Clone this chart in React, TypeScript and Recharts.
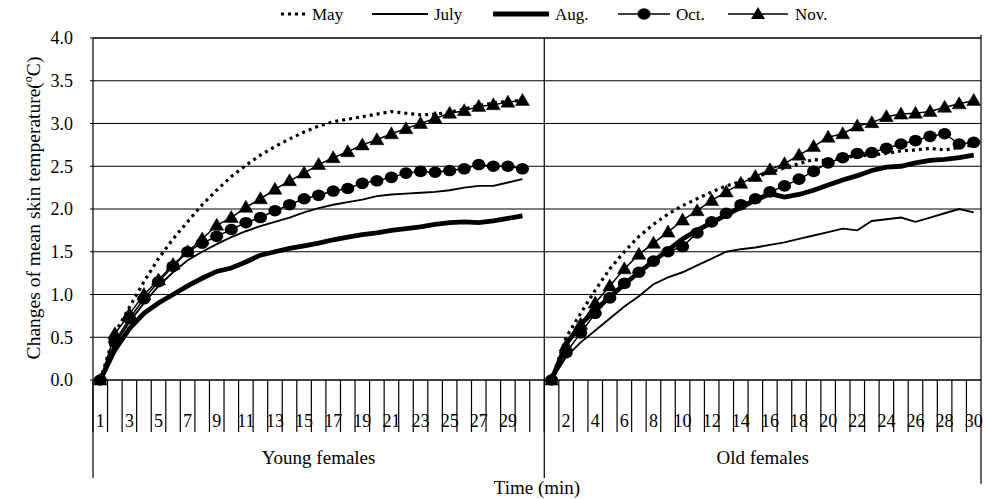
import React from 'react';
import { LineChart, Line, XAxis, YAxis, CartesianGrid, ReferenceLine } from 'recharts';

// ---------- categories (minutes) ----------
const youngMinutes = [1, 2, 3, 4, 5, 6, 7, 8, 9, 10, 11, 12, 13, 14, 15, 16, 17, 18, 19, 20, 21, 22, 23, 24, 25, 26, 27, 28, 29, 30];
const oldMinutes = [1, 2, 3, 4, 5, 6, 7, 8, 9, 10, 11, 12, 13, 14, 15, 16, 17, 18, 19, 20, 21, 22, 23, 24, 25, 26, 27, 28, 29, 30];
const groupNames = ['Young females', 'Old females'];

// ---------- series values: Young females ----------
const youngMay = [0, 0.55, 0.85, 1.15, 1.42, 1.65, 1.85, 2.05, 2.22, 2.38, 2.51, 2.63, 2.73, 2.82, 2.9, 2.97, 3.02, 3.05, 3.08, 3.11, 3.14, 3.12, 3.1, 3.11, 3.13, 3.17, 3.21, 3.24, 3.26, 3.27];
const youngJuly = [0, 0.42, 0.68, 0.9, 1.1, 1.26, 1.4, 1.5, 1.59, 1.67, 1.74, 1.8, 1.85, 1.9, 1.96, 2.01, 2.05, 2.08, 2.11, 2.15, 2.17, 2.18, 2.19, 2.2, 2.22, 2.25, 2.27, 2.27, 2.31, 2.35];
const youngAug = [0, 0.35, 0.6, 0.78, 0.9, 1.0, 1.1, 1.19, 1.27, 1.31, 1.38, 1.46, 1.5, 1.54, 1.57, 1.6, 1.64, 1.67, 1.7, 1.72, 1.75, 1.77, 1.79, 1.82, 1.84, 1.85, 1.84, 1.86, 1.89, 1.92];
const youngOct = [0, 0.45, 0.72, 0.95, 1.15, 1.33, 1.5, 1.6, 1.68, 1.76, 1.84, 1.9, 1.98, 2.05, 2.12, 2.16, 2.21, 2.24, 2.3, 2.33, 2.37, 2.42, 2.44, 2.43, 2.45, 2.47, 2.52, 2.5, 2.5, 2.47];
const youngNov = [0, 0.54, 0.77, 1.0, 1.17, 1.35, 1.5, 1.65, 1.81, 1.9, 2.02, 2.12, 2.23, 2.33, 2.42, 2.52, 2.6, 2.67, 2.75, 2.81, 2.88, 2.94, 3.0, 3.06, 3.12, 3.15, 3.2, 3.22, 3.25, 3.27];

// ---------- series values: Old females ----------
const oldMay = [0, 0.5, 0.78, 1.05, 1.3, 1.5, 1.68, 1.82, 1.94, 2.04, 2.12, 2.2, 2.27, 2.32, 2.37, 2.43, 2.48, 2.53, 2.58, 2.56, 2.6, 2.62, 2.63, 2.65, 2.68, 2.69, 2.71, 2.69, 2.72, 2.75];
const oldJuly = [0, 0.27, 0.44, 0.58, 0.72, 0.86, 0.98, 1.12, 1.2, 1.26, 1.34, 1.42, 1.5, 1.53, 1.55, 1.58, 1.61, 1.65, 1.69, 1.73, 1.77, 1.75, 1.86, 1.88, 1.9, 1.85, 1.9, 1.95, 2.0, 1.96];
const oldAug = [0, 0.42, 0.65, 0.82, 0.97, 1.12, 1.26, 1.39, 1.52, 1.65, 1.75, 1.84, 1.93, 2.02, 2.1, 2.18, 2.14, 2.17, 2.22, 2.28, 2.34, 2.39, 2.45, 2.49, 2.5, 2.54, 2.57, 2.58, 2.6, 2.63];
const oldOct = [0, 0.32, 0.55, 0.78, 0.96, 1.13, 1.26, 1.39, 1.5, 1.56, 1.72, 1.85, 1.95, 2.05, 2.12, 2.2, 2.27, 2.35, 2.44, 2.54, 2.6, 2.65, 2.66, 2.71, 2.76, 2.8, 2.85, 2.88, 2.76, 2.78];
const oldNov = [0, 0.4, 0.65, 0.9, 1.1, 1.3, 1.47, 1.6, 1.73, 1.87, 1.98, 2.1, 2.2, 2.3, 2.38, 2.46, 2.53, 2.63, 2.73, 2.84, 2.88, 2.97, 3.01, 3.08, 3.11, 3.12, 3.14, 3.19, 3.23, 3.27];

// ---------- axis ticks ----------
const yTicks = [0, 0.5, 1, 1.5, 2, 2.5, 3, 3.5, 4];
const labelStep = 2;

// ---------- layout ----------
const FONT = "'Liberation Serif', 'Times New Roman', Times, serif";
const W = 985;
const H = 499;
const MARGIN = { top: 38, right: 4, bottom: 0, left: 0 };
const Y_AXIS_W = 93;
const X_AXIS_H = 119;
const PLOT_W = W - MARGIN.left - MARGIN.right - Y_AXIS_W;
const PLOT_H = H - MARGIN.top - MARGIN.bottom - X_AXIS_H;

type Row = {
  key: string;
  label: string;
  may: number | null;
  july: number | null;
  aug: number | null;
  oct: number | null;
  nov: number | null;
};

const rows: Row[] = [];
youngMinutes.forEach((m, i) =>
  rows.push({ key: `Y${m}`, label: String(m), may: youngMay[i], july: youngJuly[i], aug: youngAug[i], oct: youngOct[i], nov: youngNov[i] })
);
rows.push({ key: 'gap', label: '', may: null, july: null, aug: null, oct: null, nov: null });
oldMinutes.forEach((m, i) =>
  rows.push({ key: `O${m}`, label: String(m), may: oldMay[i], july: oldJuly[i], aug: oldAug[i], oct: oldOct[i], nov: oldNov[i] })
);

const groups = [
  { name: groupNames[0], start: 0, count: youngMinutes.length + 1 },
  { name: groupNames[1], start: youngMinutes.length + 1, count: oldMinutes.length },
];

const bad = (v: any) => v == null || Number.isNaN(v);

const TriangleDot = (p: any) => {
  const { cx, cy, index } = p;
  if (bad(cx) || bad(cy)) return <g key={`tri-${index}`} />;
  return (
    <polygon
      key={`tri-${index}`}
      points={`${cx},${cy - 7} ${cx - 7},${cy + 5} ${cx + 7},${cy + 5}`}
      fill="#000"
      stroke="#000"
      strokeWidth={0.5}
    />
  );
};

const EllipseDot = (p: any) => {
  const { cx, cy, index } = p;
  if (bad(cx) || bad(cy)) return <g key={`ell-${index}`} />;
  return <ellipse key={`ell-${index}`} cx={cx} cy={cy} rx={6.6} ry={5.8} fill="#000" />;
};

const series = [
  { key: 'may', name: 'May', width: 3.2, dash: '3 4', marker: 'none' },
  { key: 'july', name: 'July', width: 1.9, dash: undefined, marker: 'none' },
  { key: 'aug', name: 'Aug.', width: 4.8, dash: undefined, marker: 'none' },
  { key: 'oct', name: 'Oct.', width: 1.5, dash: undefined, marker: 'circle' },
  { key: 'nov', name: 'Nov.', width: 1.5, dash: undefined, marker: 'triangle' },
];

// legend placement (layout only)
const legendLayout = [
  { x0: 281, x1: 307, tx: 312 },
  { x0: 372, x1: 428, tx: 434 },
  { x0: 493, x1: 549, tx: 555 },
  { x0: 618, x1: 670, tx: 676 },
  { x0: 728, x1: 788, tx: 795 },
];

const XTick = (props: any) => {
  const { x, y, index, payload } = props;
  const band =
    payload && typeof payload.offset === 'number' && payload.offset > 0 ? payload.offset * 2 : PLOT_W / rows.length;
  const xl = x - band / 2;
  const xr = x + band / 2;
  const row = rows[index];
  const g = groups.find((gr) => gr.start === index);
  const isLast = index === rows.length - 1;
  return (
    <g>
      {index % labelStep === 0 && row && row.label ? (
        <text x={x} y={y + 47} textAnchor="middle" fontFamily={FONT} fontSize={18} fill="#000">
          {row.label}
        </text>
      ) : null}
      <line x1={xl} x2={xl} y1={y} y2={y + 52} stroke="#000" strokeWidth={1.2} />
      {g ? (
        <g>
          <line x1={xl} x2={xl} y1={index === 0 ? y : MARGIN.top} y2={y + 98} stroke="#000" strokeWidth={1.2} />
          <text x={xl + (g.count * band) / 2} y={y + 84} textAnchor="middle" fontFamily={FONT} fontSize={19} fill="#000">
            {g.name}
          </text>
        </g>
      ) : null}
      {isLast ? (
        <g>
          <line x1={xr} x2={xr} y1={MARGIN.top - 3} y2={y + 104} stroke="#000" strokeWidth={1.2} />
        </g>
      ) : null}
    </g>
  );
};

const YTitle = () => {
  const cx = 40;
  const cy = MARGIN.top + PLOT_H / 2 - 1;
  return (
    <text transform={`translate(${cx}, ${cy}) rotate(-90)`} textAnchor="middle" fontFamily={FONT} fontSize={19.5} fill="#000">
      Changes of mean skin temperature(
      <tspan dy={-8} fontSize={12}>o</tspan>
      <tspan dy={8}>C)</tspan>
    </text>
  );
};

const XTitle = () => (
  <text
    x={MARGIN.left + Y_AXIS_W + PLOT_W / 2}
    y={H - 5}
    textAnchor="middle"
    fontFamily={FONT}
    fontSize={19}
    fill="#000"
  >
    Time (min)
  </text>
);

const LegendOverlay = () => (
  <svg width={W} height={30} style={{ position: 'absolute', left: 0, top: 0 }}>
    {series.map((s, i) => {
      const L = legendLayout[i];
      const mid = (L.x0 + L.x1) / 2;
      const ly = 14;
      return (
        <g key={s.key}>
          <line
            x1={L.x0}
            x2={L.x1}
            y1={ly}
            y2={ly}
            stroke="#000"
            strokeWidth={s.width}
            strokeDasharray={s.dash}
          />
          {s.marker === 'circle' ? <ellipse cx={mid} cy={ly} rx={6.6} ry={5.8} fill="#000" /> : null}
          {s.marker === 'triangle' ? (
            <polygon points={`${mid},${ly - 7} ${mid - 7},${ly + 5} ${mid + 7},${ly + 5}`} fill="#000" />
          ) : null}
          <text x={L.tx} y={20} fontFamily={FONT} fontSize={17} fill="#000">
            {s.name}
          </text>
        </g>
      );
    })}
  </svg>
);

export default function App() {
  return (
    <div style={{ position: 'absolute', left: 0, top: 0, width: W, height: H, background: '#fff' }}>
      <LineChart width={W} height={H} data={rows} margin={MARGIN}>
        <CartesianGrid vertical={false} stroke="#000" strokeWidth={1.1} />
        <ReferenceLine y={4} stroke="#000" strokeWidth={1.2} />
        <XAxis
          dataKey="key"
          type="category"
          scale="band"
          interval={0}
          height={X_AXIS_H}
          tickLine={false}
          tickSize={0}
          tickMargin={0}
          axisLine={{ stroke: '#000', strokeWidth: 1.2 }}
          tick={<XTick />}
          label={<XTitle />}
        />
        <YAxis
          type="number"
          domain={[0, 4]}
          ticks={yTicks}
          interval={0}
          width={Y_AXIS_W}
          tickFormatter={(v: number) => v.toFixed(1)}
          tick={{ fill: '#000', fontSize: 18, fontFamily: FONT }}
          tickSize={3}
          tickMargin={17}
          axisLine={{ stroke: '#000', strokeWidth: 1.2 }}
          tickLine={{ stroke: '#000' }}
          label={<YTitle />}
        />
        {series.map((s) => (
          <Line
            key={s.key}
            dataKey={s.key}
            name={s.name}
            type="linear"
            stroke="#000"
            strokeWidth={s.width}
            strokeDasharray={s.dash}
            isAnimationActive={false}
            activeDot={false}
            connectNulls={false}
            dot={
              s.marker === 'circle'
                ? (p: any) => <EllipseDot {...p} />
                : s.marker === 'triangle'
                ? (p: any) => <TriangleDot {...p} />
                : false
            }
          />
        ))}
      </LineChart>
      <LegendOverlay />
    </div>
  );
}
